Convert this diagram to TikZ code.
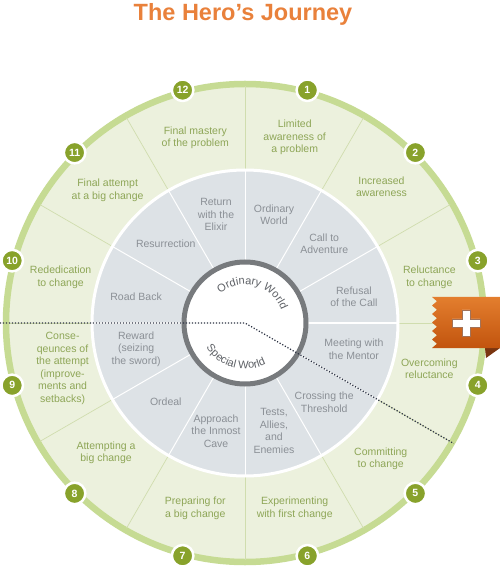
\documentclass[tikz,border=0pt]{standalone}
\usepackage{fontspec}
\setmainfont{Liberation Sans}
\usetikzlibrary{decorations.text}
\definecolor{titleor}{HTML}{E9813B}
\definecolor{outerfill}{HTML}{ECF1DD}
\definecolor{ringgreen}{HTML}{C6DB93}
\definecolor{spokegreen}{HTML}{D0DDAE}
\definecolor{grayfill}{HTML}{DDE2E6}
\definecolor{graytext}{HTML}{8B9096}
\definecolor{greentext}{HTML}{8EA657}
\definecolor{olive}{HTML}{88A22B}
\definecolor{innerring}{HTML}{777A7D}
\definecolor{dotcol}{HTML}{2B3142}
\definecolor{ribtop}{HTML}{E37E2E}
\definecolor{ribbot}{HTML}{C2540E}
\definecolor{ribdark}{HTML}{7A3510}
\definecolor{worldtext}{HTML}{5E6166}
\begin{document}
\begin{tikzpicture}[x=1pt,y=1pt,
  outertext/.style={align=center, text=greentext, font=\fontsize{10.5}{12.5}\selectfont, inner sep=0pt},
  innertext/.style={align=center, text=graytext, font=\fontsize{10.5}{12.5}\selectfont, inner sep=0pt},
  numc/.style={circle, fill=olive, draw=white, line width=2.5pt, minimum size=21.5pt, inner sep=0pt, text=white, font=\bfseries\fontsize{10.5}{10.5}\selectfont},
  dotline/.style={draw=dotcol, line width=1.2pt, dash pattern=on 1.2pt off 1.8pt},
]
\useasboundingbox (-245,-247) rectangle (255,323);
\coordinate (C) at (0,0);
% title
\node[font=\bfseries\fontsize{23.5}{28}\selectfont, text=titleor, anchor=base, inner sep=0pt] (title) at (-2,302.3) {The Hero’s Journey};
% outer disk and ring
\fill[outerfill] (C) circle (238pt);
\draw[ringgreen, line width=6.5pt] (C) circle (239pt);
\foreach \a in {0,30,...,330} \draw[spokegreen, line width=0.7pt] (\a:153pt) -- (\a:237pt);
% gray ring
\draw[white, line width=3pt, fill=grayfill] (C) circle (153pt);
\foreach \a in {0,30,...,330} \draw[white, line width=1pt] (\a:63pt) -- (\a:152pt);
% inner circle
\draw[innerring, line width=5pt, fill=white] (C) circle (61pt);
\path[decorate, decoration={text along path, text align=center, text={|\fontsize{11}{12}\selectfont\color{worldtext}|Ordinary World}}] (140:38.5pt) arc[start angle=140, end angle=10, radius=38.5pt];
\path[decorate, decoration={text along path, text align=center, text={|\fontsize{11}{12}\selectfont\color{worldtext}|Special World}}] (195:46pt) arc[start angle=195, end angle=315, radius=46pt];
% outer texts
\node[outertext] (o1) at (75:192pt) {Limited\\awareness of\\a problem};
\node[outertext] (o2) at (45:193pt) {Increased\\awareness};
\node[outertext] (o3) at (14:190pt) {Reluctance\\to change};
\node[outertext] (o4) at (-14:190pt) {Overcoming\\reluctance};
\node[outertext] (o5) at (-45:192pt) {Committing\\to change};
\node[outertext] (o6) at (-75:192pt) {Experimenting\\with first change};
\node[outertext] (o7) at (-105:192pt) {Preparing for\\a big change};
\node[outertext] (o8) at (-137:190pt) {Attempting a\\big change};
\node[outertext] (o9) at (194:188pt) {Conse-\\qeunces of\\the attempt\\(improve-\\ments and\\setbacks)};
\node[outertext] (o10) at (166:190pt) {Rededication\\to change};
\node[outertext] (o11) at (136:191pt) {Final attempt\\at a big change};
\node[outertext] (o12) at (105:192pt) {Final mastery\\of the problem};
% inner texts
\node[innertext] (i1) at (75:112pt) {Ordinary\\World};
\node[innertext] (i2) at (45:112pt) {Call to\\Adventure};
\node[innertext] (i3) at (13.5:112pt) {Refusal\\of the Call};
\node[innertext] (i4) at (-13.5:112pt) {Meeting with\\the Mentor};
\node[innertext] (i5) at (-45:112pt) {Crossing the\\Threshold};
\node[innertext] (i6) at (-75:112pt) {Tests,\\Allies,\\and\\Enemies};
\node[innertext] (i7) at (-105:112pt) {Approach\\the Inmost\\Cave};
\node[innertext] (i8) at (-135:112pt) {Ordeal};
\node[innertext] (i9) at (193.5:112pt) {Reward\\(seizing\\the sword)};
\node[innertext] (i10) at (166.5:112pt) {Road Back};
\node[innertext] (i11) at (135:112pt) {Resurrection};
\node[innertext] (i12) at (105:112pt) {Return\\with the\\Elixir};
% dotted divider
\coordinate (dl) at (-245,0);
\coordinate (de) at (-30:241pt);
\draw[dotline] (dl) -- (C) -- (de);
% ribbon
\fill[ribdark] (240,-25) -- (255,-25) -- (241,-35) -- cycle;
\shade[top color=ribtop, bottom color=ribbot] (187,26) -- (192,21.75) -- (187,17.5) -- (192,13.25) -- (187,9) -- (192,4.75) -- (187,0.5) -- (192,-3.75) -- (187,-8) -- (192,-12.25) -- (187,-16.5) -- (192,-20.75) -- (187,-25) -- (255,-25) -- (255,26) -- cycle;
\filldraw[white, draw=ribdark!70, line width=0.4pt] (207,4) -- (217,4) -- (217,13) -- (225,13) -- (225,4) -- (235,4) -- (235,-4) -- (225,-4) -- (225,-13) -- (217,-13) -- (217,-4) -- (207,-4) -- cycle;
% numbers
\foreach \n [evaluate=\n as \ang using {75-30*(\n-1)}] in {1,...,12}
  \node[numc] (n\n) at (\ang:241pt) {\n};
\end{tikzpicture}
\end{document}
